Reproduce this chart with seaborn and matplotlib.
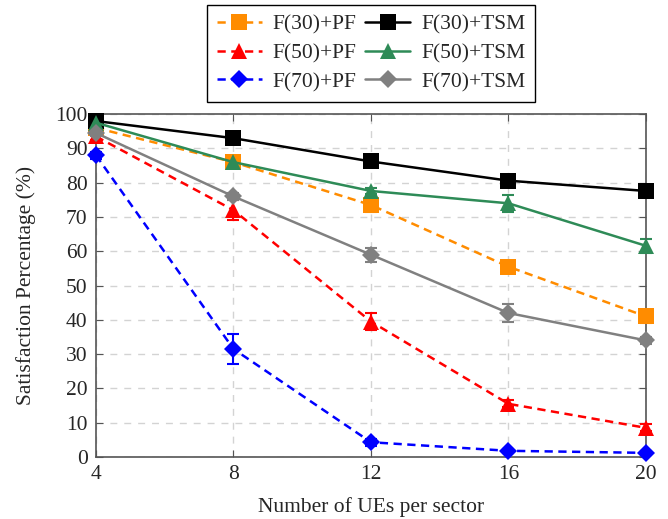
import numpy as np
import pandas as pd
import matplotlib
matplotlib.use('Agg')
import matplotlib.pyplot as plt
import seaborn as sns

ues = [4, 8, 12, 16, 20]

# satisfaction (%) per scheme
f30_pf = [96.0, 86.0, 73.5, 55.5, 41.0]
f50_pf = [93.5, 72.0, 39.5, 15.5, 8.5]
f70_pf = [88.0, 31.5, 4.3, 1.8, 1.2]
f30_tsm = [98.0, 93.0, 86.2, 80.6, 77.6]
f50_tsm = [97.5, 86.0, 77.6, 74.0, 61.6]
f70_tsm = [94.5, 76.0, 59.0, 42.0, 34.0]

# error bar half-widths
f30_pf_err = [1.0, 1.0, 2.0, 1.0, 2.0]
f50_pf_err = [1.0, 3.0, 2.5, 1.0, 1.0]
f70_pf_err = [1.0, 4.5, 1.0, 0.5, 0.5]
f30_tsm_err = [0.5, 1.0, 1.0, 1.0, 1.0]
f50_tsm_err = [1.0, 1.0, 1.0, 2.5, 2.0]
f70_tsm_err = [1.0, 1.0, 2.0, 2.5, 1.0]

labels = ['F(30)+PF', 'F(50)+PF', 'F(70)+PF', 'F(30)+TSM', 'F(50)+TSM', 'F(70)+TSM']
values = [f30_pf, f50_pf, f70_pf, f30_tsm, f50_tsm, f70_tsm]
errors = [f30_pf_err, f50_pf_err, f70_pf_err, f30_tsm_err, f50_tsm_err, f70_tsm_err]
colors = ['#ff8c00', '#ff0000', '#0000ff', '#000000', '#2e8b57', '#808080']
markers = ['s', '^', 'D', 's', '^', 'D']
msizes = [11.5, 11.5, 9.5, 11.5, 11.5, 9.5]
styles = ['--', '--', '--', '-', '-', '-']

sns.set_style('ticks')
plt.rcParams['font.family'] = ['Liberation Serif', 'DejaVu Serif']

fig = plt.figure(figsize=(6.68, 5.19), dpi=100)
ax = fig.add_axes([0.1437, 0.1195, 0.8233, 0.6605])

for lab, vals, err, c, m, ms, ls in zip(labels, values, errors, colors, markers, msizes, styles):
    eb = ax.errorbar(ues, vals, yerr=err, fmt='none', ecolor=c, elinewidth=1.5,
                     capsize=4, capthick=1.5, zorder=2)
    for art in eb.lines[1] + eb.lines[2]:
        art.set_clip_on(False)
    sns.lineplot(x=ues, y=vals, ax=ax, color=c, marker=m, markersize=ms,
                 markeredgewidth=0, linewidth=1.8, label=lab, zorder=3)
    line = ax.lines[-1]
    line.set_clip_on(False)
    line.set_linestyle(ls)
    if ls == '--':
        line.set_dashes((3.3, 2.2))

ax.set_xlim(4, 20)
ax.set_ylim(0, 100)
ax.set_xticks(ues)
ax.set_yticks(np.arange(0, 101, 10))
ax.grid(True, color='#d3d3d3', linestyle=(0, (5, 5)), linewidth=1)
ax.tick_params(direction='in', top=True, right=True, labelsize=15.5, length=5,
               color='#555555', pad=6)
for s in ax.spines.values():
    s.set_color('#555555')
    s.set_linewidth(1.2)
ax.set_xlabel('Number of UEs per sector', fontsize=15.5, labelpad=9)
ax.set_ylabel('Satisfaction Percentage (%)', fontsize=15.5, labelpad=14)

ax.legend(loc='lower center', bbox_to_anchor=(0.5, 1.005), ncol=2, fontsize=15.5,
          frameon=True, fancybox=False, edgecolor='black', framealpha=1,
          handlelength=2.1, columnspacing=0.4, handletextpad=0.5,
          borderpad=0.45, labelspacing=0.4)

fig.savefig('out.png', dpi=100)
